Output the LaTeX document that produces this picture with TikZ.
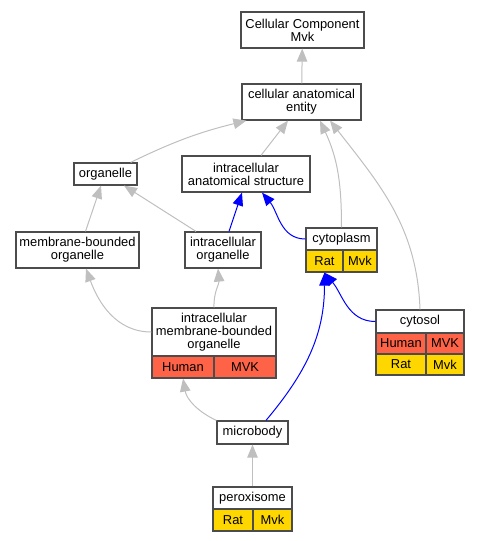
\documentclass[tikz,border=0pt]{standalone}
\usepackage{fontspec}
\setmainfont{Liberation Sans}
\usetikzlibrary{arrows.meta}
\definecolor{gold}{HTML}{FFD700}
\definecolor{tomato}{HTML}{FF6347}

\begin{document}
\begin{tikzpicture}[x=1pt,y=-1pt,
    box/.style={draw=black!70, line width=1.2pt, fill=white, inner sep=0pt,
        align=center, font=\fontsize{12.9}{13}\selectfont},
    rat/.style={box, fill=gold},
    human/.style={box, fill=tomato},
    isa/.style={draw=black!25, line width=1pt, -{Triangle[length=13pt,width=10.5pt]}},
    partof/.style={isa, draw=blue}]

        \useasboundingbox (0,0) rectangle (480,541);

        % 上层节点
        \node[box, minimum width=123pt, minimum height=36pt] (cc) at (302.5,30) {Cellular Component\\Mvk};
        \node[box, minimum width=119pt, minimum height=36pt] (cae) at (301.5,102) {cellular anatomical\\entity};
        \node[box, minimum width=63pt, minimum height=22pt] (org) at (105.5,174) {organelle};
        \node[box, minimum width=128pt, minimum height=36pt] (ias) at (246,174) {intracellular\\anatomical structure};
        \node[box, minimum width=123pt, minimum height=36pt] (mbo) at (77.5,250) {membrane-bounded\\organelle};
        \node[box, minimum width=76pt, minimum height=36pt] (io) at (223,250) {intracellular\\organelle};

        % cytoplasm 和它的表格
        \node[box, minimum width=71pt, minimum height=22pt] (cyto) at (341.5,239) {cytoplasm};
        \node[rat, minimum width=37pt, minimum height=22pt] (cytoR) at (324.5,261) {Rat};
        \node[rat, minimum width=34pt, minimum height=22pt] (cytoM) at (360,261) {Mvk};

        % cytosol 和它的表格
        \node[box, minimum width=88pt, minimum height=23pt] (csol) at (420,321.5) {cytosol};
        \node[human, minimum width=50pt, minimum height=21pt] (csolH) at (401,343.5) {Human};
        \node[human, minimum width=38pt, minimum height=21pt] (csolHM) at (445,343.5) {MVK};
        \node[rat, minimum width=50pt, minimum height=21pt] (csolR) at (401,364.5) {Rat};
        \node[rat, minimum width=38pt, minimum height=21pt] (csolRM) at (445,364.5) {Mvk};

        % intracellular membrane-bounded organelle
        \node[box, minimum width=124pt, minimum height=48pt] (imbo) at (214,332) {intracellular\\membrane-bounded\\organelle};
        \node[human, minimum width=62pt, minimum height=22pt] (imboH) at (183,367) {Human};
        \node[human, minimum width=62pt, minimum height=22pt] (imboM) at (245,367) {MVK};

        % 下层节点
        \node[box, minimum width=71pt, minimum height=23pt] (mb) at (252.5,432.5) {microbody};
        \node[box, minimum width=79pt, minimum height=22pt] (perox) at (252.5,498) {peroxisome};
        \node[rat, minimum width=40pt, minimum height=22pt] (peroxR) at (233,520) {Rat};
        \node[rat, minimum width=39pt, minimum height=22pt] (peroxM) at (272.5,520) {Mvk};

        % is_a 连线(灰色)
        \draw[isa] (cae) -- (cc);
        \draw[isa] ([xshift=-7]org.north east) to[bend left=6] ([xshift=5]cae.south west);
        \draw[isa] ([xshift=15]ias.north) -- ([xshift=-13.5]cae.south);
        \draw[isa] (cyto.north) to[out=90,in=-65] ([xshift=18.5]cae.south);
        \draw[isa] (csol.north) to[out=92,in=-52] ([xshift=28.5]cae.south);
        \draw[isa] ([xshift=8]mbo.north) -- ([xshift=-4.5]org.south);
        \draw[isa] ([xshift=-27]io.north) -- ([xshift=18.5]org.south);
        \draw[isa] (imbo.west) to[out=180,in=-70] ([xshift=8.5]mbo.south);
        \draw[isa] (imbo.north) to[out=92,in=-85] ([xshift=-5]io.south);
        \draw[isa] (mb.north west) to[out=155,in=-80] (imboH.south);
        \draw[isa] (perox) -- (mb);

        % part_of 连线(蓝色)
        \draw[partof] ([xshift=6]io.north) -- ([xshift=-4]ias.south);
        \draw[partof] (cyto.west) to[out=180,in=-50] ([xshift=16]ias.south);
        \draw[partof] (csol.west) to[out=180,in=-50] (cytoR.south);
        \draw[partof] ([xshift=13.5]mb.north) to[out=50,in=-90] (cytoR.south);
    \end{tikzpicture}
\end{document}
